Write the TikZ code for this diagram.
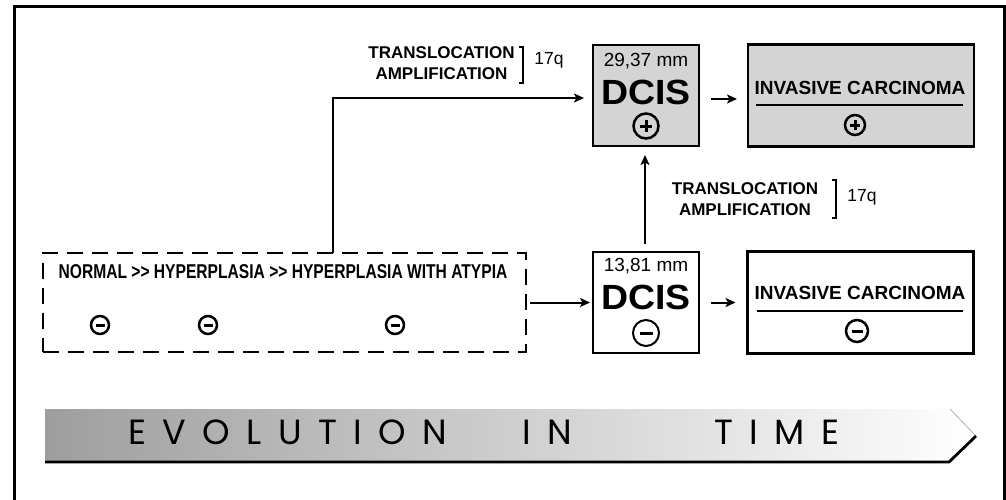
\documentclass[tikz,border=0pt]{standalone}
\usepackage{fontspec}
\setmainfont{Liberation Sans}
\newfontfamily\narrowfont[FakeStretch=0.78]{Liberation Sans}
\newfontfamily\banfont[LetterSpace=47]{Poppins}
\usetikzlibrary{arrows.meta,calc}
\begin{document}
\begin{tikzpicture}[x=1pt,y=-1pt,
  every node/.style={inner sep=0pt,outer sep=0pt},
  arr/.style={line width=2pt,-{Stealth[length=10pt,width=9pt,inset=2.5pt]}},
  dcisbox/.style={draw,line width=1.6pt,minimum width=106pt,minimum height=101pt},
  invbox/.style={draw,line width=2.8pt,minimum width=226pt,minimum height=102pt},
  greyfill/.style={fill=black!17},
  mmtext/.style={font=\fontsize{19}{22}\selectfont},
  dcistext/.style={font=\bfseries\fontsize{35}{38}\selectfont},
  invtext/.style={font=\bfseries\fontsize{19}{22}\selectfont},
  lbl/.style={font=\bfseries\fontsize{17}{21}\selectfont,align=center},
  qtext/.style={font=\fontsize{17.5}{20}\selectfont},
  sgn/.style={circle,draw,line width=2.5pt,minimum size=#1},
  minus/.style={path picture={\draw[line width=3pt]
      ($(path picture bounding box.west)!0.25!(path picture bounding box.east)$) --
      ($(path picture bounding box.west)!0.75!(path picture bounding box.east)$);}},
  plus/.style={path picture={\draw[line width=3pt]
      ($(path picture bounding box.west)!0.25!(path picture bounding box.east)$) --
      ($(path picture bounding box.west)!0.75!(path picture bounding box.east)$)
      ($(path picture bounding box.north)!0.25!(path picture bounding box.south)$) --
      ($(path picture bounding box.north)!0.75!(path picture bounding box.south)$);}},
  bracket/.style={line width=1.2pt},
  bantext/.style={font=\banfont\fontsize{35}{38}\selectfont,anchor=base west}
]
\useasboundingbox (0,0) rectangle (1006,499);
% outer frame
\draw[line width=3pt] (14,6) rectangle (1004,503);

% boxes
\node[dcisbox,greyfill] (dcisU) at (646,95.5) {};
\node[invbox,greyfill] (invU) at (861,95.5) {};
\node[dcisbox] (dcisL) at (646,302.5) {};
\node[invbox] (invL) at (860.5,302.5) {};
\node[draw,line width=1.8pt,dash pattern=on 16pt off 9pt,minimum width=483pt,minimum height=99pt] (pre) at (284.5,302.5) {};

% DCIS contents
\node[mmtext] (mmU) at (646,61) {29,37 mm};
\node[dcistext] (dU) at (646,92) {\scalebox{1.07}[1]{DCIS}};
\node[sgn=25pt,plus] (sU) at (646,126) {};
\node[mmtext] (mmL) at (646,266) {13,81 mm};
\node[dcistext] (dL) at (646,297) {\scalebox{1.07}[1]{DCIS}};
\node[sgn=26pt,line width=2pt,minus] (sL) at (646,333) {};

% invasive contents
\node[invtext] (iU) at (860,88) {INVASIVE CARCINOMA};
\draw[line width=2pt] (756,105) coordinate (ulA) -- (963,105) coordinate (ulB);
\node[sgn=20pt,plus] (siU) at (855,125) {};
\node[invtext] (iL) at (860,293) {INVASIVE CARCINOMA};
\draw[line width=2pt] (757,311) coordinate (llA) -- (963,311) coordinate (llB);
\node[sgn=22pt,minus] (siL) at (857,331) {};

% pre-invasive contents
\node[font=\narrowfont\bfseries\fontsize{20}{24}\selectfont] (prelbl) at (283,272) {NORMAL >> HYPERPLASIA >> HYPERPLASIA WITH ATYPIA};
\node[sgn=18pt,minus] (m1) at (100,325) {};
\node[sgn=18pt,minus] (m2) at (208,325) {};
\node[sgn=18pt,minus] (m3) at (395,325) {};

% connectors
\coordinate (branch) at (333,253);
\draw[arr,shorten >=9pt] (branch) |- ($(dcisU.west)+(0,2.5)$);
\draw[arr,shorten <=4pt,shorten >=3pt] (pre.east) -- (dcisL.west);
\draw[arr,shorten <=12pt,shorten >=11pt] ($(dcisU.east)+(0,3.5)$) -- ($(invU.west)+(0,3.5)$);
\draw[arr,shorten <=12pt,shorten >=12pt] (dcisL.east) -- (invL.west);
\draw[arr,shorten <=8pt,shorten >=9pt] ($(dcisL.north)+(-1,0)$) -- ($(dcisU.south)+(-1,0)$);

% labels
\node[lbl] (labU) at (441.5,63.5) {TRANSLOCATION\\AMPLIFICATION};
\draw[bracket] (519,47) -- (523,47) -- (523,83) -- (519,83);
\node[qtext] (qU) at (549,60) {17q};
\node[lbl] (labL) at (745,199.5) {TRANSLOCATION\\AMPLIFICATION};
\draw[bracket] (832,180) -- (836,180) -- (836,218) -- (832,218);
\node[qtext] (qL) at (862,197) {17q};

% evolution banner
\shade[left color=black!38,right color=white] (45,409) -- (950,409) -- (976,436) -- (949,462) -- (45,462) -- cycle;
\draw[black!30,line width=0.8pt] (950,409) -- (976,436);
\draw[line width=2.8pt,line join=miter] (45,462) -- (949,462) -- (976,436);
\node[bantext] (ev1) at (128,444) {EVOLUTION};
\node[bantext] (ev2) at (522,444) {IN};
\node[bantext] (ev3) at (714,444) {TIME};
\end{tikzpicture}
\end{document}
